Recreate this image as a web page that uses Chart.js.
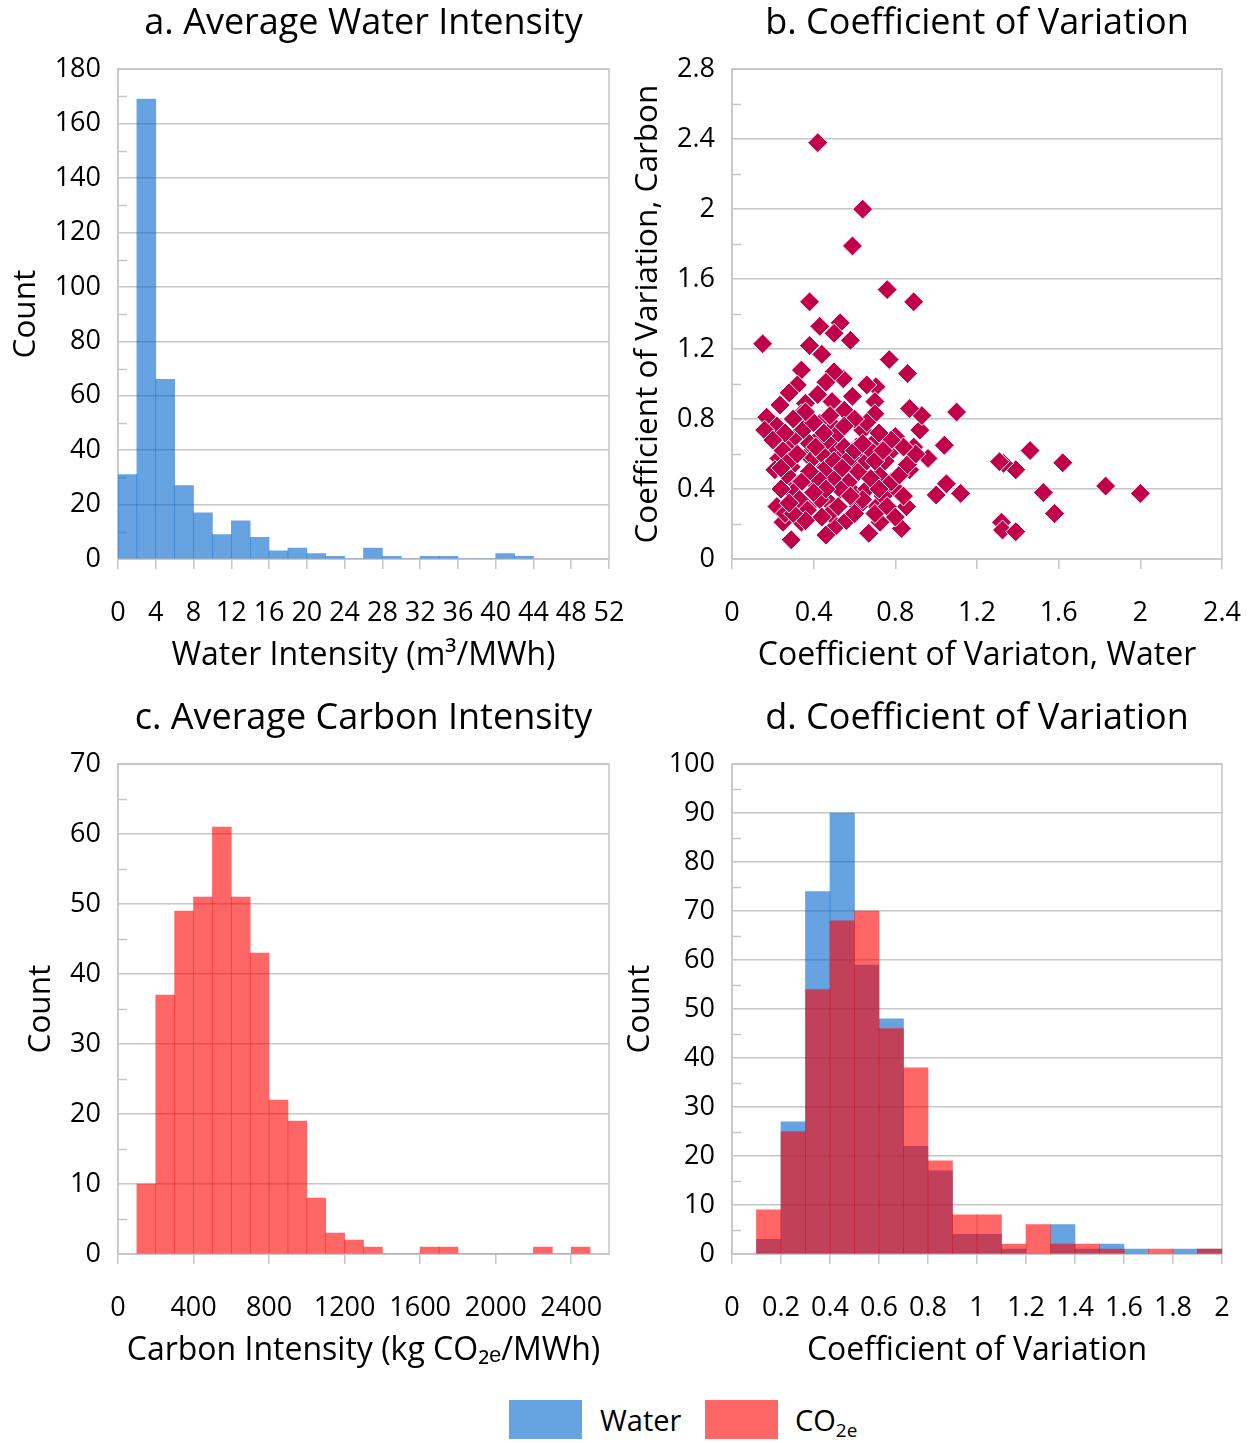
<!DOCTYPE html>
<html>
<head>
<meta charset="utf-8">
<script src="https://cdn.jsdelivr.net/npm/chart.js@4.4.1/dist/chart.umd.min.js"></script>
<style>
  body { margin: 0; background: #fff; width: 1254px; height: 1443px; position: relative; font-family: 'Open Sans', sans-serif; }
  .panel { position: absolute; width: 627px; height: 690px; }
  .swatch { position: absolute; top: 1400px; width: 73px; height: 39px; }
  .lbl { position: absolute; top: 1400px; line-height: 40px; font-size: 29px; color: #000; }
  .lbl sub { font-size: 19px; vertical-align: -6px; line-height: 0; }
</style>
</head>
<body>
<div class="panel" style="left:0;top:0"><canvas id="chartA" width="627" height="690"></canvas></div>
<div class="panel" style="left:627px;top:0"><canvas id="chartB" width="627" height="690"></canvas></div>
<div class="panel" style="left:0;top:695px"><canvas id="chartC" width="627" height="690"></canvas></div>
<div class="panel" style="left:627px;top:695px"><canvas id="chartD" width="627" height="690"></canvas></div>

<div class="swatch" style="left:509px;background:rgba(0,102,204,0.6)"></div>
<div class="lbl" style="left:600px">Water</div>
<div class="swatch" style="left:705px;background:rgba(255,0,0,0.6)"></div>
<div class="lbl" style="left:795px">CO<sub>2e</sub></div>

<script>
// a. average water intensity, bins of 2 m3/MWh (lower edges)
const waterBinStart = [0, 2, 4, 6, 8, 10, 12, 14, 16, 18, 20, 22, 24, 26, 28, 30, 32, 34, 36, 38, 40, 42];
const waterCounts   = [31, 169, 66, 27, 17, 9, 14, 8, 3, 4, 2, 1, 0, 4, 1, 0, 1, 1, 0, 0, 2, 1];

// c. average carbon intensity, bins of 100 kg/MWh
const carbonBinStart = [100, 200, 300, 400, 500, 600, 700, 800, 900, 1000, 1100, 1200,
                        1300, 1400, 1500, 1600, 1700, 1800, 1900, 2000, 2100, 2200, 2300, 2400];
const carbonCounts   = [10, 37, 49, 51, 61, 51, 43, 22, 19, 8, 3, 2, 1, 0, 0, 1, 1, 0, 0, 0, 0, 1, 0, 1];

// d. coefficient of variation, bins of 0.1
const cvBinStart     = [0.1, 0.2, 0.3, 0.4, 0.5, 0.6, 0.7, 0.8, 0.9, 1.0, 1.1, 1.2, 1.3, 1.4, 1.5, 1.6, 1.7, 1.8, 1.9];
const cvWaterCounts  = [3, 27, 74, 90, 59, 48, 22, 17, 4, 4, 1, 0, 6, 1, 2, 1, 0, 1, 1];
const cvCarbonCounts = [9, 25, 54, 68, 70, 46, 38, 19, 8, 8, 2, 6, 2, 2, 1, 0, 1, 0, 1];

// b. scatter: CV water (x) vs CV carbon (y)
const cvWater = [
  0.42, 0.64, 0.59, 0.76, 0.89, 0.38, 0.15, 0.38, 0.43, 0.53, 0.50, 0.58, 0.44, 0.77, 0.86,
  1.10, 1.46, 1.62, 1.39, 1.33, 1.31, 1.525, 1.83, 2.00, 1.58, 1.32, 1.325, 1.39, 1.04, 1.00,
  1.05, 1.12, 0.96, 0.92, 0.93, 0.34, 0.545, 0.50, 0.46, 0.705, 0.66, 0.32, 0.28, 0.42, 0.59,
  0.70, 0.235, 0.36, 0.49, 0.87, 0.17, 0.55, 0.70, 0.22, 0.34, 0.43, 0.50, 0.64, 0.80, 0.276,
  0.415, 0.50, 0.61, 0.69, 0.89, 0.23, 0.37, 0.52, 0.64, 0.77, 0.21, 0.29, 0.45, 0.594, 0.725,
  0.87, 0.317, 0.415, 0.69, 0.81, 0.60, 0.27, 0.39, 0.48, 0.71, 0.855, 0.34, 0.51, 0.67, 0.83,
  0.29, 0.46, 0.25, 0.725, 0.16,
  0.25, 0.31, 0.35, 0.38, 0.40, 0.44, 0.47, 0.52, 0.55, 0.58, 0.62, 0.66, 0.68, 0.72, 0.75,
  0.78, 0.74, 0.66, 0.62, 0.57, 0.53, 0.50, 0.46, 0.42, 0.38, 0.34, 0.30, 0.27, 0.24, 0.22,
  0.26, 0.33, 0.37, 0.43, 0.48, 0.52, 0.56, 0.60, 0.64, 0.70, 0.76, 0.80, 0.84, 0.82, 0.86,
  0.90, 0.84, 0.78, 0.72, 0.66, 0.60, 0.55, 0.48, 0.40, 0.36, 0.30, 0.26, 0.20, 0.28, 0.32,
  0.41, 0.45, 0.50, 0.54, 0.60, 0.64, 0.70, 0.74, 0.68, 0.46, 0.40, 0.36, 0.30, 0.44, 0.58,
  0.72, 0.28, 0.24
];
const cvCarbon = [
  2.38, 2.00, 1.79, 1.54, 1.47, 1.47, 1.23, 1.22, 1.33, 1.35, 1.29, 1.25, 1.17, 1.14, 1.06,
  0.84, 0.62, 0.55, 0.51, 0.547, 0.556, 0.38, 0.417, 0.375, 0.26, 0.21, 0.166, 0.156, 0.65, 0.366,
  0.43, 0.375, 0.575, 0.737, 0.82, 1.08, 1.03, 1.07, 1.01, 0.985, 0.995, 0.995, 0.95, 0.94, 0.93,
  0.90, 0.88, 0.89, 0.90, 0.86, 0.81, 0.85, 0.83, 0.76, 0.83, 0.775, 0.756, 0.737, 0.70, 0.66,
  0.68, 0.63, 0.64, 0.66, 0.64, 0.575, 0.594, 0.566, 0.585, 0.604, 0.51, 0.527, 0.52, 0.527, 0.537,
  0.51, 0.43, 0.42, 0.43, 0.39, 0.375, 0.30, 0.32, 0.32, 0.30, 0.30, 0.21, 0.19, 0.147, 0.175,
  0.11, 0.137, 0.21, 0.21, 0.737,
  0.62, 0.70, 0.74, 0.66, 0.58, 0.60, 0.68, 0.72, 0.64, 0.58, 0.50, 0.56, 0.62, 0.48, 0.56,
  0.44, 0.36, 0.40, 0.30, 0.44, 0.40, 0.47, 0.52, 0.46, 0.50, 0.44, 0.38, 0.48, 0.40, 0.30,
  0.26, 0.34, 0.28, 0.34, 0.26, 0.30, 0.22, 0.26, 0.34, 0.26, 0.30, 0.24, 0.36, 0.48, 0.54,
  0.60, 0.64, 0.68, 0.72, 0.78, 0.80, 0.76, 0.82, 0.78, 0.84, 0.80, 0.72, 0.68, 0.56, 0.60,
  0.64, 0.72, 0.56, 0.52, 0.62, 0.66, 0.56, 0.62, 0.46, 0.40, 0.38, 0.22, 0.26, 0.24, 0.36,
  0.40, 0.32, 0.52
];

const GRID = '#c6c6c6';
const BLUE = 'rgba(0,102,204,0.6)';
const RED = 'rgba(255,0,0,0.6)';
const TICK = 27, AXT_X = 32, AXT_Y = 31.5, TTL = 36;

Chart.defaults.font.family = "'Open Sans', sans-serif";
Chart.defaults.color = '#000';
Chart.defaults.animation = false;

// plot frame + short inward minor ticks on the y axis
const frame = {
  id: 'frame',
  beforeDatasetsDraw(chart, args, opts) {
    const { ctx, chartArea: a } = chart;
    const y = chart.scales.y;
    ctx.save();
    ctx.strokeStyle = GRID;
    ctx.lineWidth = 1.5;
    ctx.strokeRect(a.left, a.top, a.right - a.left, a.bottom - a.top);
    ctx.beginPath();
    for (let v = y.min + opts.minor; v < y.max; v += opts.minor * 2) {
      const p = Math.round(y.getPixelForValue(v)) + 0.5;
      ctx.moveTo(a.left, p);
      ctx.lineTo(a.left + 9, p);
    }
    ctx.stroke();
    ctx.restore();
  }
};

function toBars(starts, counts, w) {
  return starts.map((s, i) => ({ x: s + w / 2, y: counts[i] }));
}

// plain numbers: "2" not "2.0", "1200" not "1,200"
const plain = v => String(+(+v).toFixed(2));

function makeOptions(o) {
  return {
    responsive: false,
    layout: { padding: { left: 0, top: 0, bottom: 0, right: o.padRight } },
    plugins: {
      legend: { display: false },
      tooltip: { enabled: false },
      title: {
        display: true, text: o.title, fullSize: false,
        font: { size: TTL, weight: 'normal', lineHeight: 1.2 },
        padding: { top: 2, bottom: 24 }
      },
      frame: { minor: o.yMinor }
    },
    scales: {
      x: {
        type: 'linear', min: o.xMin, max: o.xMax, offset: false,
        afterFit: s => { s.height = 131; s.paddingLeft = 0; s.paddingRight = 0; },
        grid: { offset: false, drawOnChartArea: false, tickLength: 10, color: GRID, lineWidth: 1.5 },
        border: { color: GRID, width: 1.5 },
        ticks: { stepSize: o.xStep, includeBounds: false, autoSkip: false, maxRotation: 0,
                 font: { size: TICK }, padding: 28, callback: plain },
        title: { display: true, text: o.xTitle, font: { size: AXT_X, lineHeight: 1.2 },
                 padding: { top: 0, bottom: 15 } }
      },
      y: {
        min: 0, max: o.yMax,
        afterFit: s => { s.width = o.yWidth; },
        grid: { drawTicks: false, color: GRID, lineWidth: 1.5 },
        border: { color: GRID, width: 1.5 },
        ticks: { stepSize: o.yStep, font: { size: TICK }, padding: 17, callback: plain },
        title: { display: true, text: o.yTitle, font: { size: AXT_Y, lineHeight: '24px' },
                 padding: { top: o.yTitlePad, bottom: 0 } }
      }
    }
  };
}

const barDefaults = { barPercentage: 1, categoryPercentage: 1, borderWidth: 0, grouped: false };

new Chart(document.getElementById('chartA'), {
  type: 'bar',
  data: { datasets: [{ label: 'Water', data: toBars(waterBinStart, waterCounts, 2),
                       backgroundColor: BLUE, ...barDefaults }] },
  options: makeOptions({ title: 'a. Average Water Intensity', xTitle: 'Water Intensity (m³/MWh)',
    xMin: 0, xMax: 52, xStep: 4, yMax: 180, yStep: 20, yMinor: 10, yWidth: 118, padRight: 18,
    yTitle: 'Count', yTitlePad: 14 }),
  plugins: [frame]
});

new Chart(document.getElementById('chartB'), {
  type: 'scatter',
  data: { datasets: [{ label: 'CV', data: cvWater.map((x, i) => ({ x, y: cvCarbon[i] })),
                       pointStyle: 'rectRot', pointRadius: 10, backgroundColor: '#c0004b',
                       borderColor: '#ffffff', borderWidth: 1 }] },
  options: makeOptions({ title: 'b. Coefficient of Variation', xTitle: 'Coefficient of Variaton, Water',
    xMin: 0, xMax: 2.4, xStep: 0.4, yMax: 2.8, yStep: 0.4, yMinor: 0.2, yWidth: 105, padRight: 32,
    yTitle: 'Coefficient of Variation, Carbon', yTitlePad: 9 }),
  plugins: [frame]
});

new Chart(document.getElementById('chartC'), {
  type: 'bar',
  data: { datasets: [{ label: 'CO2e', data: toBars(carbonBinStart, carbonCounts, 100),
                       backgroundColor: RED, ...barDefaults }] },
  options: makeOptions({ title: 'c. Average Carbon Intensity', xTitle: 'Carbon Intensity (kg CO₂ₑ/MWh)',
    xMin: 0, xMax: 2600, xStep: 400, yMax: 70, yStep: 10, yMinor: 5, yWidth: 118, padRight: 18,
    yTitle: 'Count', yTitlePad: 29 }),
  plugins: [frame]
});

// water drawn first, CO2e on top (lower order = drawn later)
new Chart(document.getElementById('chartD'), {
  type: 'bar',
  data: { datasets: [
    { label: 'Water', data: toBars(cvBinStart, cvWaterCounts, 0.1), backgroundColor: BLUE, order: 2, ...barDefaults },
    { label: 'CO2e', data: toBars(cvBinStart, cvCarbonCounts, 0.1), backgroundColor: RED, order: 1, ...barDefaults }
  ] },
  options: makeOptions({ title: 'd. Coefficient of Variation', xTitle: 'Coefficient of Variation',
    xMin: 0, xMax: 2, xStep: 0.2, yMax: 100, yStep: 10, yMinor: 5, yWidth: 105, padRight: 32,
    yTitle: 'Count', yTitlePad: 1 }),
  plugins: [frame]
});
</script>
</body>
</html>
